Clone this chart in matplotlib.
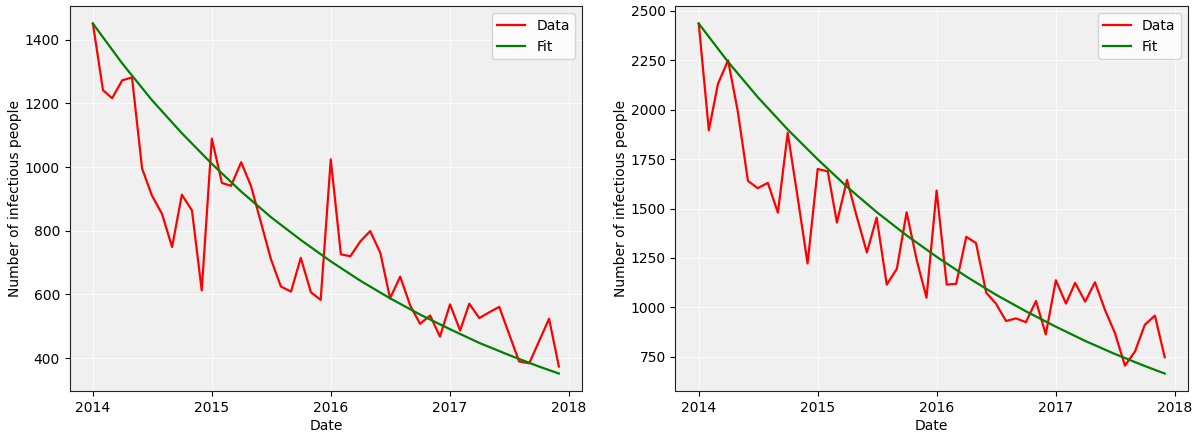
import matplotlib
matplotlib.use("Agg")
import matplotlib.pyplot as plt
import matplotlib.dates as mdates
import pandas as pd

# indices de mes desde enero 2014 (faltan algunos meses en la primera serie)
meses_a = [0, 1, 2, 3, 4, 5, 6, 7, 8, 9, 10, 11, 12, 13, 14, 15, 16, 17, 18, 19,
           20, 21, 22, 23, 24, 25, 26, 27, 28, 29, 30, 31, 32, 33, 34, 35, 36, 37,
           38, 39, 40, 41, 43, 44, 46, 47]
datos_a = [1450, 1241, 1216, 1272, 1281, 995, 911, 853, 749, 913, 864, 613,
           1089, 950, 941, 1015, 941, 825, 712, 625, 609, 715, 607, 583,
           1024, 726, 720, 767, 799, 731, 588, 656, 565, 508, 534, 468,
           569, 487, 571, 526, 544, 561, 390, 384, 524, 374]

meses_b = list(range(48))
datos_b = [2436, 1896, 2131, 2250, 1990, 1640, 1603, 1630, 1479, 1883, 1552, 1222,
           1700, 1688, 1429, 1645, 1459, 1278, 1454, 1115, 1195, 1481, 1239, 1049,
           1591, 1115, 1119, 1357, 1325, 1075, 1019, 931, 944, 925, 1032, 863,
           1137, 1019, 1124, 1029, 1127, 986, 871, 705, 777, 912, 958, 748]

# curva ajustada, leida cada trimestre
meses_ajuste = [0, 3, 6, 9, 12, 15, 18, 21, 24, 27, 30, 33, 36, 39, 42, 45, 47]
ajuste_a = [1450, 1325, 1210, 1106, 1010, 923, 843, 771, 704, 643, 588, 537,
            491, 448, 410, 374, 352]
ajuste_b = [2436, 2242, 2064, 1900, 1749, 1610, 1482, 1364, 1256, 1156, 1064,
            980, 902, 830, 764, 703, 665]

inicio = pd.Timestamp("2014-01-01")


def fechas(meses):
    return [inicio + pd.DateOffset(months=m) for m in meses]


fig, axes = plt.subplots(1, 2, figsize=(12, 4.34), dpi=100)
fig.subplots_adjust(left=0.058, right=0.99, top=0.986, bottom=0.099, wspace=0.182)

series = [(meses_a, datos_a, ajuste_a), (meses_b, datos_b, ajuste_b)]
for ax, (meses, datos, ajuste) in zip(axes, series):
    ax.set_facecolor("#f0f0f0")
    ax.grid(True, color="white", linewidth=0.8, alpha=0.8)
    ax.set_axisbelow(True)
    for lado in ax.spines.values():
        lado.set_color("#222222")
    ax.plot(fechas(meses), datos, color="red", linewidth=1.6, label="Data")
    ax.plot(fechas(meses_ajuste), ajuste, color="green", linewidth=1.6, label="Fit")
    ax.xaxis.set_major_locator(mdates.YearLocator())
    ax.xaxis.set_major_formatter(mdates.DateFormatter("%Y"))
    ax.set_xlabel("Date", labelpad=3)
    ax.set_ylabel("Number of infectious people", labelpad=2)
    ax.legend(loc="upper right")

plt.savefig("out.png")
